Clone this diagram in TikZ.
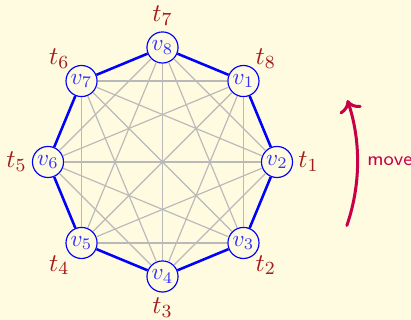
\documentclass[tikz,border=0pt]{standalone}
\usetikzlibrary{arrows.meta}
\definecolor{bg}{RGB}{254,251,224}
\definecolor{tred}{RGB}{165,25,25}
\definecolor{mv}{RGB}{200,0,70}
\definecolor{vtext}{RGB}{50,50,255}
\begin{document}
\begin{tikzpicture}[x=0.431pt,y=0.431pt,
  vtx/.style={circle,draw=blue,line width=0.5pt,minimum size=13.4pt,inner sep=0pt,text=vtext,fill=bg},
  tlab/.style={text=tred,font=\fontsize{11}{13}\selectfont,inner sep=0pt},
  gedge/.style={draw=gray!55,line width=0.5pt},
  bedge/.style={draw=blue,line width=1.1pt},
  movearrow/.style={draw=mv,line width=1.3pt,line cap=round,-{Computer Modern Rightarrow[length=5pt,width=10pt]}}]
\fill[bg] (0,0) rectangle (411,320);
\useasboundingbox (0,0) rectangle (411,320);
\coordinate (c) at (162.5,158);
\foreach \i/\a in {1/45,2/0,3/-45,4/-90,5/-135,6/180,7/135,8/90}
  \node[vtx] (v\i) at ([shift={(\a:114.5)}]c) {$v_{\i}$};
\foreach \j/\a in {8/45,1/0,2/-45,3/-90,4/-135,5/180,6/135,7/90}
  \node[tlab] (t\j) at ([shift={(\a:146)}]c) {$t_{\j}$};
\foreach \i in {1,...,7}{
  \pgfmathtruncatemacro\n{\i+1}
  \foreach \j in {\n,...,8}
    \draw[gedge] (v\i) -- (v\j);
}
\foreach \i/\j in {1/2,2/3,3/4,4/5,5/6,6/7,7/8,8/1}
  \draw[bedge] (v\i) -- (v\j);
\coordinate (a0) at ([shift={(-19:195)}]c);
\draw[movearrow] (a0) arc[start angle=-19,end angle=18.5,radius=84.05pt];
\node[text=mv,font=\sffamily\fontsize{8.3}{10}\selectfont,anchor=base west,inner sep=0pt] (mvtext) at (367,154) {move};
\end{tikzpicture}
\end{document}
